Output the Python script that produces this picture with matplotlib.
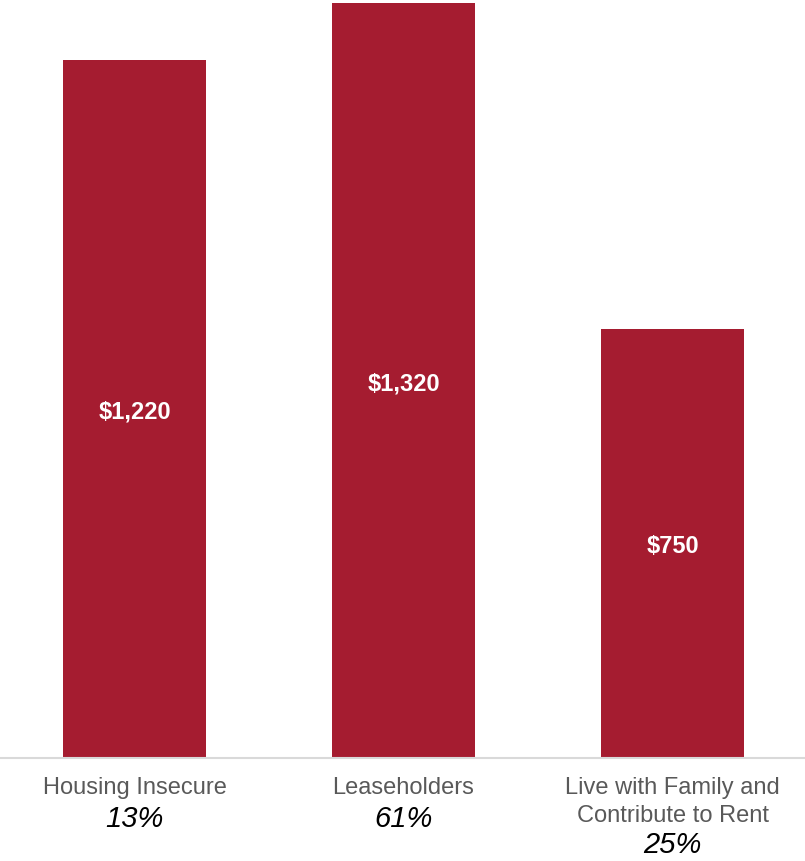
import matplotlib.pyplot as plt
from matplotlib.transforms import blended_transform_factory

categories = ["Housing Insecure", "Leaseholders", "Live with Family and\nContribute to Rent"]
rent = [1220, 1320, 750]
rent_labels = ["$1,220", "$1,320", "$750"]
shares = ["13%", "61%", "25%"]

plt.rcParams["font.family"] = ["Liberation Sans", "DejaVu Sans"]

W, H = 805, 861
fig = plt.figure(figsize=(W / 100, H / 100), dpi=100)
base = 758
ax = fig.add_axes([0, (H - base) / H, 1, base / H])

bar_color = "#A51C30"
x = range(len(categories))
ax.bar(x, rent, width=143 / 269, color=bar_color)

for i, v in enumerate(rent):
    ax.annotate(rent_labels[i], (i, v / 2), xytext=(0, -3), textcoords="offset pixels",
                ha="center", va="center", color="white", fontsize=17, fontweight="bold")

ax.set_xlim(-134.5 / 269, (W - 134.5) / 269)
ax.set_ylim(0, 1320 * base / 755)
ax.axis("off")
ax.axhline(0, color="#D9D9D9", lw=1.5, clip_on=False)

tr = blended_transform_factory(ax.transData, fig.transFigure)
cat_y = [788, 788, 802]
pct_y = [819, 819, 845]
for i, c in enumerate(categories):
    ax.text(i, (H - cat_y[i]) / H, c, transform=tr, ha="center", va="center",
            color="#595959", fontsize=17, linespacing=1.35)
    ax.text(i, (H - pct_y[i]) / H, shares[i], transform=tr, ha="center", va="center",
            color="black", fontsize=21, style="italic")

fig.savefig("out.png", dpi=100)
